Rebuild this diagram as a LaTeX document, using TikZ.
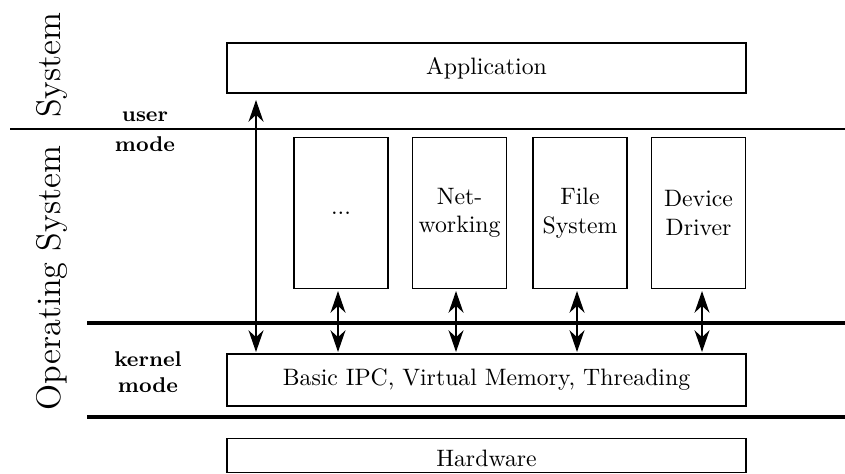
\documentclass[tikz,border=0pt]{standalone}
\usetikzlibrary{arrows.meta}
\begin{document}
\begin{tikzpicture}[x=0.0148cm,y=-0.0148cm,
  box/.style={draw,line width=0.5pt,inner sep=0pt,align=center},
  layer/.style={box,minimum width=519*0.0148cm},
  server/.style={box,minimum width=94*0.0148cm,minimum height=151*0.0148cm},
  link/.style={line width=0.9pt,{Stealth[length=3.2mm,width=2.2mm,inset=1.0mm]}-{Stealth[length=3.2mm,width=2.2mm,inset=1.0mm]}},
  modelabel/.style={font=\small\bfseries,align=center},
  sidelabel/.style={font=\Large,rotate=90}]
  \useasboundingbox (0,0) rectangle (845,473);

  % mode boundaries
  \coordinate (u0) at (10,129);   \coordinate (u1) at (845,129);
  \coordinate (k0) at (87,323);   \coordinate (k1) at (845,323);
  \coordinate (h0) at (87,417);   \coordinate (h1) at (845,417);
  \draw[line width=0.9pt] (u0) -- (u1);
  \draw[line width=1.8pt] (k0) -- (k1);
  \draw[line width=1.8pt] (h0) -- (h1);

  % layers
  \node[layer,minimum height=50*0.0148cm] (app) at (486.5,68) {Application};
  \node[layer,minimum height=52*0.0148cm] (kern) at (486.5,380) {Basic IPC, Virtual Memory, Threading};
  \node[layer,minimum height=34*0.0148cm,anchor=north] (hw) at (486.5,438) {};
  \node (hwtext) at (486.5,458) {Hardware};

  % user-space servers
  \foreach \n/\x/\t in {m1/341/{...},m2/459.5/{Net-\\working},m3/580/{File\\System},m4/698.5/{Device\\Driver}}
    \node[server] (\n) at (\x,213) {\t};

  % communication paths
  \coordinate (a0) at (256,100); \coordinate (a1) at (256,352);
  \draw[link] (a0) -- (a1);
  \foreach \n/\x in {m1/338,m2/456,m3/577,m4/702}{
    \coordinate (\n t) at (\x,291);
    \coordinate (\n b) at (\x,352);
    \draw[link] (\n t) -- (\n b);
  }

  % labels
  \node[modelabel] (ul) at (145,117) {user};
  \node[modelabel] (ml) at (145,144) {mode};
  \node[modelabel] (kl) at (148,372) {kernel\\mode};
  \node[sidelabel] (sys) at (52,65) {System};
  \node[sidelabel] (os) at (52,278) {Operating System};
\end{tikzpicture}
\end{document}
